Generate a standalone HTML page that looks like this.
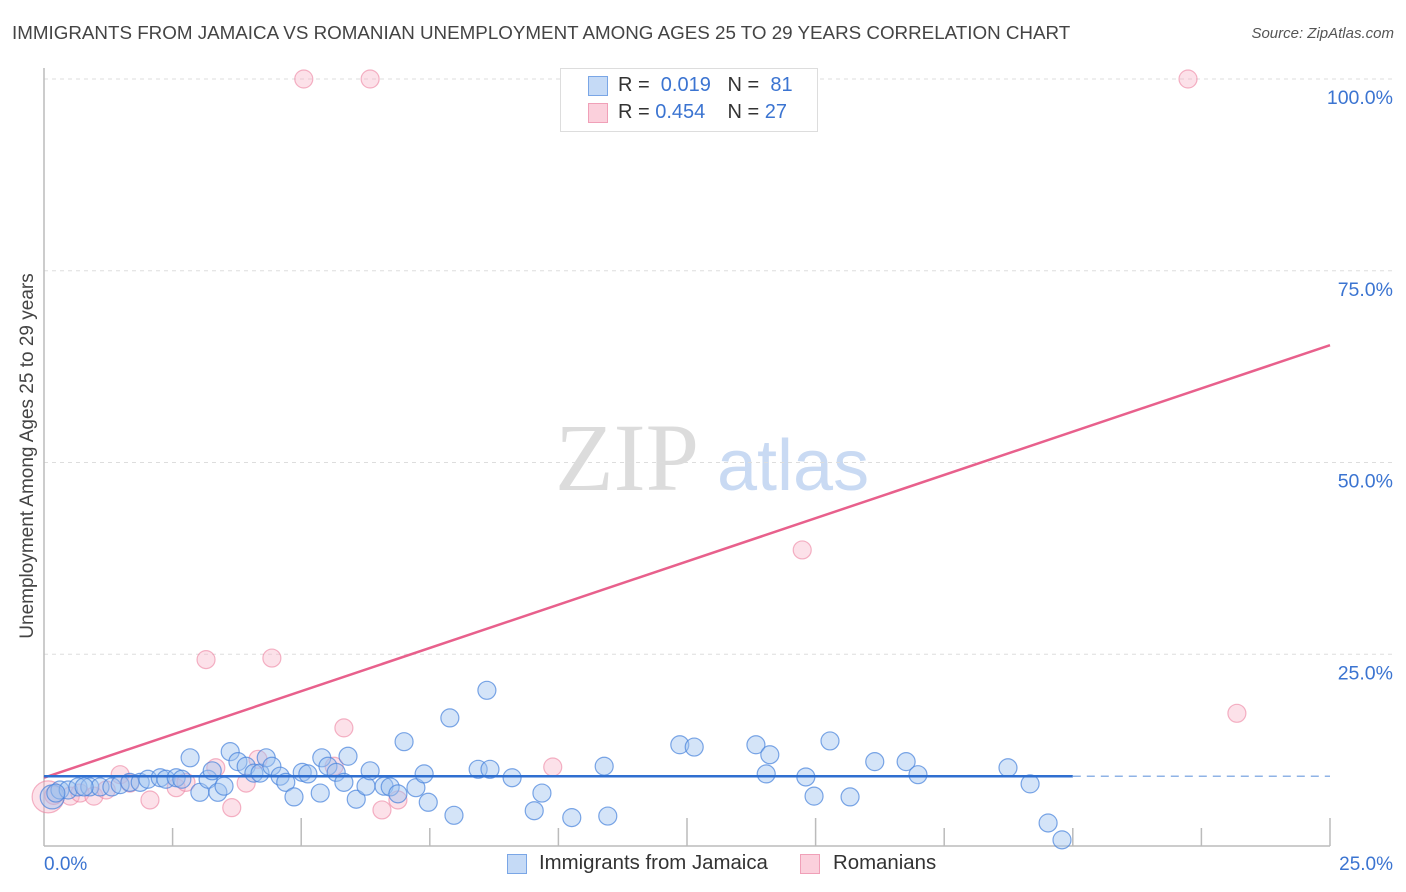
<!DOCTYPE html>
<html><head><meta charset="utf-8"><style>
body{margin:0;background:#fff;font-family:"Liberation Sans",sans-serif;}
#wrap{position:relative;width:1406px;height:892px;overflow:hidden;}
.t{position:absolute;white-space:nowrap;}
</style></head><body>
<div id="wrap">
<div class="t" style="left:12px;top:22px;font-size:18.8px;color:#444;">IMMIGRANTS FROM JAMAICA VS ROMANIAN UNEMPLOYMENT AMONG AGES 25 TO 29 YEARS CORRELATION CHART</div>
<div class="t" style="right:12px;top:25px;font-size:15px;color:#555;font-style:italic;">Source: ZipAtlas.com</div>
<div class="t" style="left:28px;top:456px;font-size:19px;color:#444;transform:translate(-50%,-50%) rotate(-90deg);">Unemployment Among Ages 25 to 29 years</div>
<svg id="plot" width="1406" height="892" style="position:absolute;left:0;top:0"></svg>
<div style="position:absolute;left:560px;top:68px;width:256px;height:62px;border:1px solid #ddd;background:#fff;"></div>
<div style="position:absolute;left:588px;top:76px;width:18px;height:18px;background:#c5daf6;border:1px solid #7aa6e6;"></div>
<div class="t" style="left:618px;top:74px;font-size:20px;color:#333;">R = &nbsp;<span style="color:#3b74d1">0.019</span>&nbsp;&nbsp; N = &nbsp;<span style="color:#3b74d1">81</span></div>
<div style="position:absolute;left:588px;top:103px;width:18px;height:18px;background:#fbd0dc;border:1px solid #f0a0b8;"></div>
<div class="t" style="left:618px;top:101px;font-size:20px;color:#333;">R = <span style="color:#3b74d1">0.454</span>&nbsp;&nbsp;&nbsp; N = <span style="color:#3b74d1">27</span></div>
<div style="position:absolute;left:507px;top:854px;width:18px;height:18px;background:#c5daf6;border:1px solid #7aa6e6;"></div>
<div class="t" style="left:539px;top:852px;font-size:20.4px;color:#333;">Immigrants from Jamaica</div>
<div style="position:absolute;left:800px;top:854px;width:18px;height:18px;background:#fbd0dc;border:1px solid #f0a0b8;"></div>
<div class="t" style="left:833px;top:852px;font-size:20.4px;color:#333;">Romanians</div>
</div>
<script>
const yTicks=[25,50,75,100];
const yTickLabels=["25.0%","50.0%","75.0%","100.0%"];
const xTickLabels=["0.0%","25.0%"];
const jamX=[0.16,0.31,0.47,0.66,0.89,1.09,1.32,1.48,1.67,1.87,2.02,2.26,2.37,2.57,2.68,2.84,3.03,3.19,3.27,3.38,3.50,3.62,3.77,3.93,4.08,4.20,4.32,4.43,4.59,4.70,4.86,5.02,5.13,5.37,5.40,5.52,5.68,5.83,5.91,6.07,6.26,6.34,6.61,6.73,6.88,7.00,7.23,7.39,7.47,7.89,7.97,8.44,8.61,8.67,9.10,9.53,9.68,10.26,10.89,10.96,12.36,12.64,13.84,14.04,14.11,14.81,14.97,15.28,15.67,16.15,16.76,16.99,18.74,19.17,19.52,19.79,0.23,0.78];
const jamY=[6.4,7.3,7.3,7.7,7.7,7.7,7.7,8.0,8.3,8.3,8.7,8.9,8.7,8.9,8.7,11.5,7.0,8.7,9.8,7.0,7.8,12.3,11.0,10.4,9.5,9.5,11.5,10.4,9.1,8.3,6.4,9.6,9.4,6.9,11.5,10.4,9.6,8.3,11.7,6.1,7.8,9.8,7.8,7.7,6.8,13.6,7.6,9.4,5.7,16.7,4.0,10.0,20.3,10.0,8.9,4.6,6.9,3.7,10.4,3.9,13.2,12.9,13.2,9.4,11.9,9.0,6.5,13.7,6.4,11.0,11.0,9.3,10.2,8.1,3.0,0.8,6.9,7.7];
const romX=[5.05,6.34,22.24,14.74,3.15,4.43,5.83,23.19,9.89,0.08,0.19,0.51,0.70,0.97,1.21,1.48,1.67,2.06,2.57,2.76,3.34,3.65,3.93,4.16,5.64,6.57,6.88];
const romY=[100,100,100,38.6,24.3,24.5,15.4,17.3,10.3,6.4,6.6,6.5,6.9,6.5,7.3,9.3,8.2,6.0,7.6,8.3,10.2,5.0,8.2,11.3,10.4,4.7,6.0];
const jamTrend=[9.1,9.1];
const romTrend=[8.9,65.3];
const X0=44,X1=1330,Y0=846,Y100=79;
const sx=v=>X0+(v/25)*(X1-X0);
const sy=v=>Y0-(v/100)*(Y0-Y100);
const svg=document.getElementById('plot');
const NS='http://www.w3.org/2000/svg';
function mk(tag,attrs){const e=document.createElementNS(NS,tag);for(const k in attrs)e.setAttribute(k,attrs[k]);svg.appendChild(e);return e;}
let w=mk('text',{x:555,y:490,'font-size':96,'font-family':'Liberation Serif,serif',fill:'#dcdcdc'});w.textContent='ZIP';


w=mk('text',{x:717,y:490,'font-size':72,'font-family':'Liberation Sans,sans-serif',fill:'#c9daf3'});w.textContent='atlas';


yTicks.forEach((t,i)=>{
  const g=mk('line',{x1:X0,x2:1394,y1:sy(t),y2:sy(t),stroke:'#ddd','stroke-dasharray':'4,4'});
  
  
  const l=mk('text',{x:1393,y:sy(t)+25,'text-anchor':'end','font-size':19.5,fill:'#3b74d1','font-family':'Liberation Sans,sans-serif'});
  l.textContent=yTickLabels[i];
  
  
});
let a=mk('line',{x1:X0,x2:X0,y1:68,y2:Y0,stroke:'#bbb','stroke-width':1.5});


a=mk('line',{x1:X0,x2:X1,y1:Y0,y2:Y0,stroke:'#bbb','stroke-width':1.5});


const tall=[2,5,6,10];
for(let i=1;i<=10;i++){
  const x=sx(i*2.5);
  const tk=mk('line',{x1:x,x2:x,y1:(tall.includes(i)?818:828),y2:Y0,stroke:'#bbb','stroke-width':1.5});
  
  
}
xTickLabels.forEach((s,i)=>{
  const l=mk('text',{x:i?1393:44,y:870,'text-anchor':i?'end':'start','font-size':19,fill:'#3b74d1','font-family':'Liberation Sans,sans-serif'});
  l.textContent=s;
  
  
});
romX.forEach((x,i)=>{
  const c=mk('circle',{cx:sx(x),cy:sy(romY[i]),r:i==9?16:9,fill:'rgba(248,180,200,0.4)',stroke:'rgba(236,130,160,0.6)','stroke-width':1.2});
  
  
});
jamX.forEach((x,i)=>{
  const c=mk('circle',{cx:sx(x),cy:sy(jamY[i]),r:i==0?12:9,fill:'rgba(160,195,240,0.45)',stroke:'rgba(70,130,220,0.7)','stroke-width':1.2});
  
  
});
let tl=mk('line',{x1:sx(0),y1:sy(romTrend[0]),x2:sx(25),y2:sy(romTrend[1]),stroke:'#e8608c','stroke-width':2.5});


tl=mk('line',{x1:sx(0),y1:sy(jamTrend[0]),x2:sx(20),y2:sy(jamTrend[0]+(jamTrend[1]-jamTrend[0])*0.8),stroke:'#2f6fd0','stroke-width':2.5});


tl=mk('line',{x1:sx(20),y1:sy(jamTrend[0]+(jamTrend[1]-jamTrend[0])*0.8),x2:sx(25),y2:sy(jamTrend[1]),stroke:'#8fb3e6','stroke-width':1.5,'stroke-dasharray':'8,6'});


</script>
</body></html>
